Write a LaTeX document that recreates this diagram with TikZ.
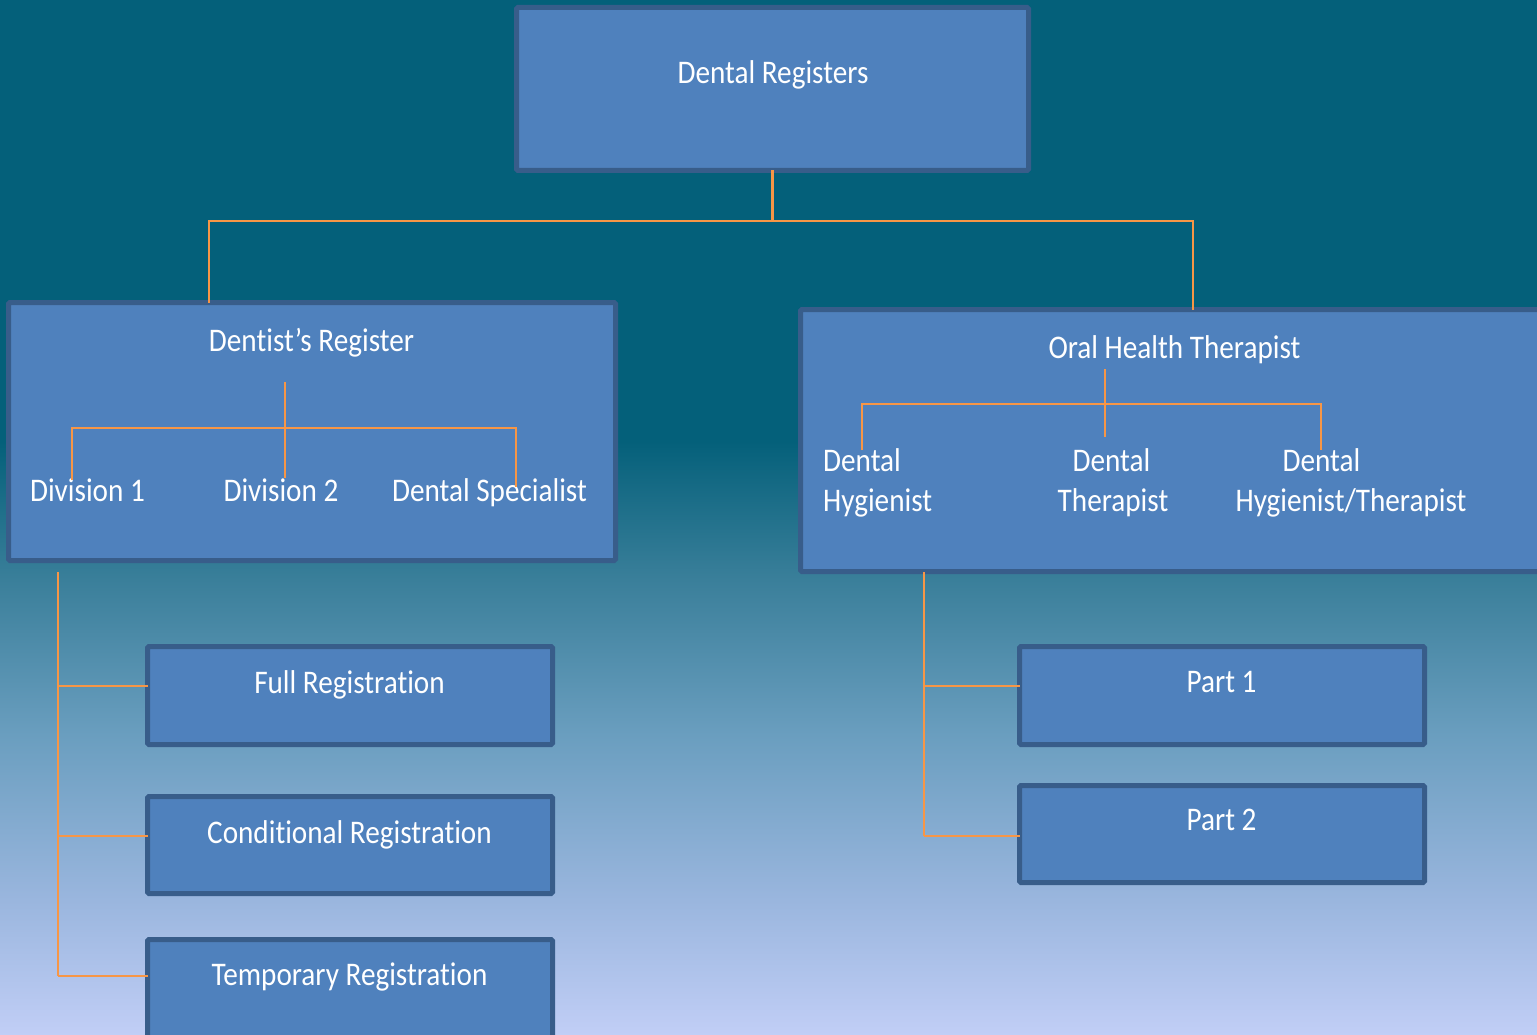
\documentclass[tikz,border=0pt]{standalone}
\usepackage{fontspec}
\setmainfont{Carlito}[FakeStretch=0.885, Ligatures=NoCommon]
\definecolor{bgtop}{HTML}{04607A}
\definecolor{bgmid1}{HTML}{3A7F9A}
\definecolor{bgmid2}{HTML}{6A9EBF}
\definecolor{bgmid3}{HTML}{9AB6DE}
\definecolor{bgbot}{HTML}{C1CEF6}
\definecolor{boxfill}{HTML}{4F81BD}
\definecolor{boxline}{HTML}{385D8A}
\definecolor{conncol}{HTML}{F79646}
% positions in bp within central 25..75 band (height 1035 -> 50bp)
\pgfdeclareverticalshading{bgshade}{100bp}{%
  color(0bp)=(bgbot); color(25bp)=(bgbot);
  color(31.5bp)=(bgmid3);
  color(39.5bp)=(bgmid2);
  color(47bp)=(bgmid1);
  color(53.7bp)=(bgtop);
  color(75bp)=(bgtop); color(100bp)=(bgtop)}
\begin{document}
\begin{tikzpicture}[x=1pt,y=-1pt,
  regbox/.style={draw=boxline, fill=boxfill, line width=5pt, rounded corners=1.5pt,
    inner sep=0pt, outer sep=0pt},
  lbl/.style={text=white, font=\fontsize{33}{40}\selectfont, inner sep=0pt, anchor=base},
  conn/.style={draw=conncol, line width=2.4pt}]
\useasboundingbox (0,0) rectangle (1537,1035);
\shade[shading=bgshade] (0,0) rectangle (1537,1035);

% boxes
\node[regbox, minimum width=512pt, minimum height=163pt] (top) at (772.5,89) {};
\node[regbox, minimum width=607pt, minimum height=258pt] (dr) at (312,431.5) {};
\node[regbox, minimum width=750pt, minimum height=262pt] (oh) at (1175.5,440.5) {};
\node[regbox, minimum width=405pt, minimum height=98pt] (full) at (350,695.5) {};
\node[regbox, minimum width=405pt, minimum height=97pt] (cond) at (350,845) {};
\node[regbox, minimum width=405pt, minimum height=98pt] (temp) at (350,988.5) {};
\node[regbox, minimum width=405pt, minimum height=98pt] (p1) at (1222,695.5) {};
\node[regbox, minimum width=405pt, minimum height=97pt] (p2) at (1222,834) {};

% top-level connectors
\coordinate (jl) at (209,221);
\coordinate (jr) at (1193,221);
\draw[conn] (top.south) -- (top.south |- jl);
\draw[conn] (jl |- dr.north) -- (jl) -- (jr) -- (jr |- oh.north);

% labels
\node[lbl] (tDR) at (773,84) {Dental Registers};
\node[lbl] (tDent) at (311.5,351) {Dentist’s Register};
\node[lbl] (tD1) at (87.5,501) {Division 1};
\node[lbl] (tD2) at (281,501) {Division 2};
\node[lbl] (tDS) at (489.5,501) {Dental Specialist};
\node[lbl] (tOH) at (1174.5,358) {Oral Health Therapist};
\node[lbl, anchor=base west] (tH1) at (823,471) {Dental};
\node[lbl, anchor=base west] (tH2) at (823,511) {Hygienist};
\node[lbl] (tT1) at (1111.5,471) {Dental};
\node[lbl] (tT2) at (1113,511) {Therapist};
\node[lbl] (tHT1) at (1321.5,471) {Dental};
\node[lbl] (tHT2) at (1351,511) {Hygienist/Therapist};
\node[lbl] (tFull) at (349.5,693) {Full Registration};
\node[lbl] (tCond) at (349.5,843) {Conditional Registration};
\node[lbl] (tTemp) at (349.5,985) {Temporary Registration};
\node[lbl] (tP1) at (1221.5,692) {Part 1};
\node[lbl] (tP2) at (1221.5,830) {Part 2};

% connectors inside Dentist's Register
\coordinate (dA) at (285,382);
\coordinate (dL) at (72,428);
\coordinate (dR) at (516,428);
\coordinate (dD1) at (72,480);
\coordinate (dD2) at (285,478);
\coordinate (dDS) at (516,487);
\draw[conn] (dA) -- (dD2);
\draw[conn] (dD1) -- (dL) -- (dR) -- (dDS);

% connectors inside Oral Health Therapist
\coordinate (oA) at (1105,369);
\coordinate (oL) at (862,404);
\coordinate (oR) at (1321,404);
\coordinate (oT) at (1105,437);
\coordinate (oH) at (862,450);
\coordinate (oHT) at (1321,450);
\draw[conn] (oA) -- (oT);
\draw[conn] (oH) -- (oL) -- (oR) -- (oHT);

% left column connectors
\coordinate (lTop) at (58,572);
\coordinate (lB1) at (58,686);
\coordinate (lB2) at (58,836);
\coordinate (lB3) at (58,976);
\draw[conn] (lTop) -- (lB3);
\draw[conn] (lB1) -- (lB1 -| full.west);
\draw[conn] (lB2) -- (lB2 -| cond.west);
\draw[conn] (lB3) -- (lB3 -| temp.west);

% right column connectors
\coordinate (rTop) at (924,572);
\coordinate (rB1) at (924,686);
\coordinate (rB2) at (924,836);
\draw[conn] (rTop) -- (rB2);
\draw[conn] (rB1) -- (rB1 -| p1.west);
\draw[conn] (rB2) -- (rB2 -| p2.west);
\end{tikzpicture}
\end{document}
